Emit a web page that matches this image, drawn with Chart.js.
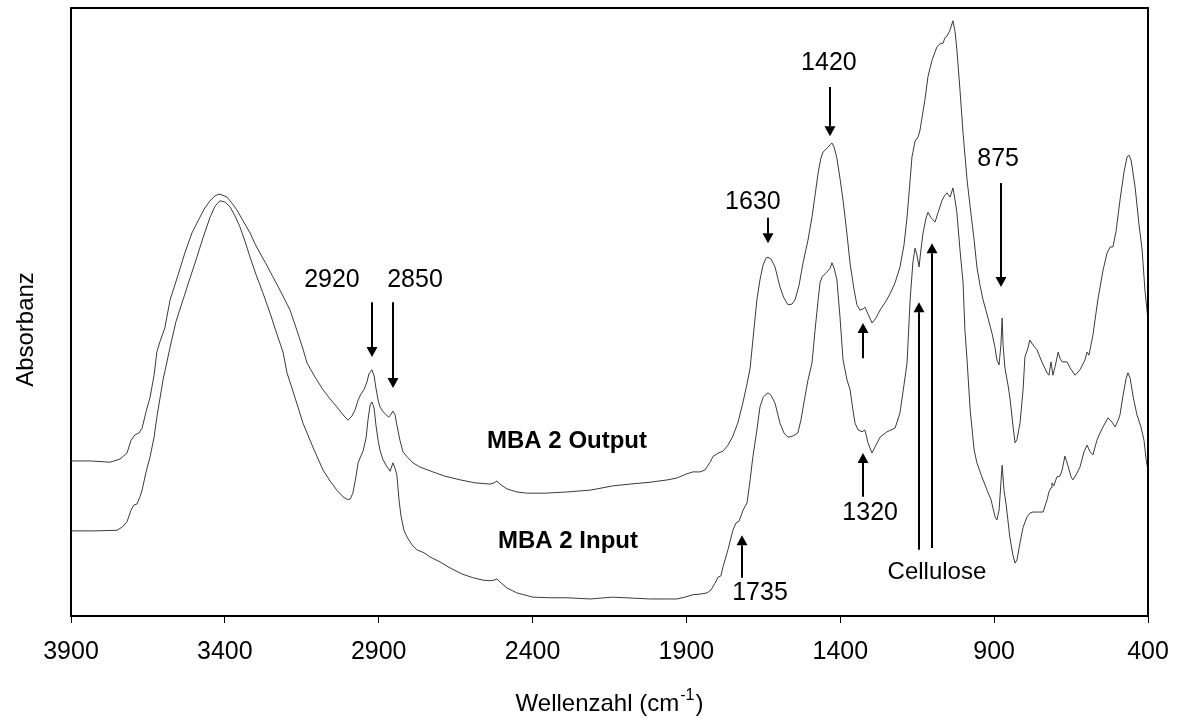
<!DOCTYPE html>
<html>
<head>
<meta charset="utf-8">
<title>FTIR MBA 2</title>
<script src="https://cdn.jsdelivr.net/npm/chart.js@4.4.1/dist/chart.umd.min.js"></script>
<style>
  html, body { margin: 0; padding: 0; background: #fff; }
  #wrap { width: 1177px; height: 719px; }
</style>
</head>
<body>
<div id="wrap"><canvas id="spectrum"></canvas></div>
<script>
// MBA 2 Output spectrum (wavenumber in cm-1, relative absorbance)
const outputWn = [3900,3838,3773,3741,3718,3705,3692,3679,3669,3656,
  3643,3630,3621,3611,3595,3578,3552,3530,3507,3481,
  3465,3448,3432,3419,3406,3393,3377,3361,3341,3318,
  3302,3286,3266,3244,3218,3188,3166,3146,3133,3107,
  3081,3058,3036,3016,3000,2987,2977,2967,2958,2948,
  2938,2932,2928,2922,2915,2909,2902,2896,2886,2876,
  2867,2860,2854,2847,2841,2831,2821,2808,2789,2766,
  2724,2685,2636,2587,2538,2525,2516,2506,2483,2451,
  2418,2360,2288,2213,2139,2083,2018,1960,1931,1898,
  1879,1856,1840,1823,1814,1797,1781,1765,1749,1732,
  1716,1703,1693,1684,1671,1661,1651,1641,1635,1625,
  1612,1596,1583,1570,1557,1547,1534,1521,1505,1492,
  1482,1472,1463,1456,1446,1440,1433,1427,1420,1411,
  1401,1391,1378,1368,1355,1346,1336,1326,1320,1310,
  1297,1284,1271,1255,1238,1222,1206,1193,1183,1173,
  1167,1157,1147,1141,1134,1125,1115,1102,1086,1076,
  1066,1060,1053,1043,1034,1027,1021,1011,1001,988,
  978,965,956,946,936,920,907,897,891,884,
  878,874,871,865,855,849,839,832,826,816,
  806,800,790,784,774,761,745,728,722,715,
  709,702,692,686,679,663,653,637,621,605,
  598,592,579,563,546,533,523,514,504,491,
  478,468,462,455,442,429,419,410,400];
const outputAbs = [.255,.255,.253,.258,.268,.289,.298,.301,.309,.336,
  .360,.396,.434,.451,.474,.520,.561,.597,.630,.656,
  .671,.683,.691,.694,.692,.689,.679,.668,.650,.630,
  .612,.597,.579,.558,.533,.503,.470,.439,.416,.393,
  .372,.357,.344,.331,.322,.329,.339,.355,.365,.372,
  .385,.398,.401,.405,.395,.375,.355,.344,.336,.331,
  .327,.332,.337,.331,.314,.289,.270,.262,.252,.245,
  .237,.230,.224,.219,.217,.219,.222,.217,.209,.204,
  .202,.202,.204,.207,.214,.217,.220,.224,.227,.234,
  .237,.237,.240,.253,.262,.268,.271,.281,.296,.319,
  .352,.382,.408,.454,.520,.553,.577,.589,.590,.587,
  .574,.541,.523,.512,.513,.520,.544,.581,.618,.656,
  .692,.729,.753,.763,.768,.771,.775,.778,.771,.753,
  .720,.684,.627,.579,.536,.512,.503,.505,.508,.497,
  .482,.490,.503,.515,.530,.548,.574,.610,.656,.717,
  .755,.781,.788,.799,.821,.849,.887,.914,.936,.941,
  .942,.951,.954,.964,.979,.961,.931,.865,.794,.717,
  .673,.618,.574,.544,.520,.490,.465,.441,.421,.413,
  .446,.490,.446,.408,.380,.360,.314,.285,.290,.317,
  .372,.426,.441,.454,.446,.438,.418,.400,.396,.418,
  .396,.410,.434,.424,.418,.418,.408,.396,.405,.421,
  .434,.429,.462,.520,.569,.597,.607,.607,.632,.684,
  .730,.755,.758,.750,.706,.643,.602,.536,.487];

// MBA 2 Input spectrum
const inputWn = [3900,3822,3751,3734,3718,3705,3695,3686,3676,3669,
  3656,3643,3630,3621,3601,3578,3559,3536,3513,3491,
  3471,3448,3432,3416,3400,3383,3367,3351,3335,3318,
  3299,3276,3253,3231,3211,3198,3172,3146,3114,3081,
  3058,3036,3016,3003,2993,2984,2974,2967,2958,2951,
  2941,2935,2928,2922,2915,2909,2902,2896,2886,2876,
  2863,2857,2854,2847,2841,2834,2828,2818,2808,2792,
  2776,2753,2733,2701,2668,2629,2594,2561,2538,2525,
  2516,2506,2483,2451,2399,2343,2288,2213,2165,2139,
  2100,2018,1970,1931,1905,1879,1856,1833,1820,1807,
  1797,1788,1781,1765,1749,1739,1729,1716,1703,1693,
  1684,1671,1661,1651,1645,1635,1625,1612,1596,1583,
  1570,1554,1538,1528,1515,1505,1492,1482,1472,1466,
  1459,1449,1443,1433,1427,1420,1411,1401,1391,1378,
  1368,1359,1352,1342,1329,1320,1310,1297,1284,1271,
  1248,1222,1206,1193,1183,1173,1164,1157,1151,1144,
  1138,1131,1121,1115,1105,1092,1082,1069,1060,1053,
  1043,1034,1027,1021,1011,1001,995,988,978,965,
  956,940,923,910,897,891,884,874,868,861,
  849,839,832,826,816,806,793,784,774,757,
  741,728,722,715,712,706,696,686,679,670,
  660,650,644,634,621,608,598,588,579,566,
  556,543,530,517,507,497,491,481,471,465,
  458,448,436,423,413,406,400];
const inputAbs = [.140,.140,.141,.146,.155,.174,.183,.184,.196,.207,
  .237,.262,.294,.327,.388,.442,.484,.520,.556,.590,
  .622,.656,.674,.683,.681,.673,.658,.640,.617,.590,
  .562,.531,.498,.464,.434,.400,.359,.317,.278,.240,
  .222,.207,.196,.192,.192,.202,.229,.252,.263,.271,
  .293,.322,.347,.352,.342,.314,.289,.273,.257,.248,
  .238,.247,.252,.243,.232,.191,.166,.141,.130,.117,
  .109,.104,.097,.089,.079,.069,.063,.059,.058,.059,
  .061,.056,.046,.038,.031,.030,.030,.028,.030,.031,
  .030,.028,.028,.028,.031,.035,.036,.038,.043,.054,
  .064,.066,.081,.109,.141,.153,.156,.174,.186,.224,
  .262,.306,.344,.359,.363,.367,.363,.350,.317,.301,
  .294,.296,.301,.322,.360,.388,.416,.470,.520,.548,
  .558,.563,.566,.572,.581,.572,.553,.492,.421,.388,
  .372,.339,.317,.306,.303,.306,.285,.268,.281,.294,
  .303,.309,.334,.380,.416,.520,.582,.605,.594,.574,
  .602,.630,.655,.664,.655,.648,.664,.684,.692,.696,
  .689,.704,.684,.663,.602,.548,.470,.421,.339,.273,
  .252,.229,.207,.191,.163,.158,.174,.248,.207,.183,
  .130,.100,.087,.092,.120,.146,.163,.169,.171,.171,
  .171,.191,.204,.211,.219,.214,.229,.230,.240,.263,
  .247,.229,.224,.232,.245,.270,.281,.270,.265,.289,
  .301,.314,.326,.319,.311,.322,.331,.363,.391,.400,
  .391,.360,.331,.311,.289,.257,.240];

const xTicks = [3900, 3400, 2900, 2400, 1900, 1400, 900, 400];

// band markers: arrow at wavenumber, from tail absorbance to tip absorbance
const bandArrows = [
  { wn: 2922, from: .516, to: .426 },
  { wn: 2854, from: .516, to: .375 },
  { wn: 1635, from: .655, to: .613 },
  { wn: 1435, from: .870, to: .789 },
  { wn: 878,  from: .712, to: .541 },
  { wn: 1326, from: .424, to: .482 },
  { wn: 1326, from: .196, to: .268 },
  { wn: 1719, from: .063, to: .133 },
  { wn: 1144, from: .109, to: .516 },
  { wn: 1102, from: .112, to: .613 }
];
const bandLabels = [
  { text: '2920', wn: 3052, abs: .553 },
  { text: '2850', wn: 2782, abs: .553 },
  { text: '1630', wn: 1684, abs: .681 },
  { text: '1420', wn: 1437, abs: .910 },
  { text: '875',  wn: 887,  abs: .752 },
  { text: '1320', wn: 1303, abs: .169 },
  { text: '1735', wn: 1661, abs: .038 },
  { text: 'Cellulose', wn: 1086, abs: .072 },
  { text: 'MBA 2 Output', wn: 2288, abs: .288, bold: true },
  { text: 'MBA 2 Input',  wn: 2285, abs: .123, bold: true }
];

const FONT = '"Liberation Sans", Arial, sans-serif';

function toPoints(xs, ys) {
  return xs.map((x, i) => ({ x: x, y: ys[i] }));
}

function drawArrow(ctx, x, y0, y1) {
  const dir = y1 > y0 ? 1 : -1;
  const head = 10, half = 5.5;
  ctx.beginPath();
  ctx.moveTo(x, y0);
  ctx.lineTo(x, y1 - dir * head);
  ctx.stroke();
  ctx.beginPath();
  ctx.moveTo(x, y1);
  ctx.lineTo(x - half, y1 - dir * head);
  ctx.lineTo(x + half, y1 - dir * head);
  ctx.closePath();
  ctx.fill();
}

const annotations = {
  id: 'annotations',
  afterDraw(chart) {
    const { ctx, chartArea: a, scales: { x, y } } = chart;
    ctx.save();

    // top and right edges of the frame
    ctx.strokeStyle = '#000';
    ctx.lineWidth = 2;
    ctx.beginPath();
    ctx.moveTo(a.left, a.top);
    ctx.lineTo(a.right, a.top);
    ctx.lineTo(a.right, a.bottom);
    ctx.stroke();

    // arrows
    ctx.fillStyle = '#000';
    ctx.lineWidth = 2;
    bandArrows.forEach(b => {
      const px = Math.round(x.getPixelForValue(b.wn));
      drawArrow(ctx, px, y.getPixelForValue(b.from), y.getPixelForValue(b.to));
    });

    // labels
    ctx.textAlign = 'center';
    ctx.textBaseline = 'middle';
    bandLabels.forEach(l => {
      ctx.font = (l.bold ? 'bold 24px ' : /^\d+$/.test(l.text) ? '25px ' : '24px ') + FONT;
      ctx.fillText(l.text, x.getPixelForValue(l.wn), y.getPixelForValue(l.abs));
    });

    // y axis title
    ctx.save();
    ctx.translate(33, 329.5);
    ctx.rotate(-Math.PI / 2);
    ctx.textBaseline = 'alphabetic';
    ctx.font = '24px ' + FONT;
    ctx.fillText('Absorbanz', 0, 0);
    ctx.restore();

    // x axis title with superscript
    ctx.textBaseline = 'alphabetic';
    ctx.textAlign = 'left';
    const main = 'Wellenzahl (cm', sup = '-1', close = ')';
    ctx.font = '24px ' + FONT;
    const wMain = ctx.measureText(main).width;
    const wClose = ctx.measureText(close).width;
    ctx.font = '16px ' + FONT;
    const wSup = ctx.measureText(sup).width + 2;
    let tx = (a.left + a.right) / 2 - (wMain + wSup + wClose) / 2;
    ctx.font = '24px ' + FONT;
    ctx.fillText(main, tx, 711);
    tx += wMain + 1;
    ctx.font = '16px ' + FONT;
    ctx.fillText(sup, tx, 700);
    tx += wSup - 1;
    ctx.font = '24px ' + FONT;
    ctx.fillText(close, tx, 711);

    ctx.restore();
  }
};

new Chart(document.getElementById('spectrum'), {
  type: 'line',
  data: {
    datasets: [
      {
        label: 'MBA 2 Output',
        data: toPoints(outputWn, outputAbs),
        borderColor: '#3a3a3a',
        borderWidth: 1,
        pointRadius: 0,
        tension: 0
      },
      {
        label: 'MBA 2 Input',
        data: toPoints(inputWn, inputAbs),
        borderColor: '#3a3a3a',
        borderWidth: 1,
        pointRadius: 0,
        tension: 0
      }
    ]
  },
  options: {
    responsive: true,
    maintainAspectRatio: false,
    animation: false,
    layout: { padding: { top: 8, right: 29, bottom: 0, left: 0 } },
    plugins: {
      legend: { display: false },
      tooltip: { enabled: false }
    },
    scales: {
      x: {
        type: 'linear',
        reverse: true,
        min: 400,
        max: 3900,
        afterBuildTicks: s => { s.ticks = xTicks.map(v => ({ value: v })); },
        afterFit: s => { s.height = 103; s.paddingLeft = 0; s.paddingRight = 0; },
        ticks: {
          color: '#000',
          padding: 14,
          maxRotation: 0,
          autoSkip: false,
          font: { family: FONT, size: 25 },
          callback: v => String(v)
        },
        grid: { display: true, drawOnChartArea: false, drawTicks: true, tickLength: 7, color: '#000' },
        border: { display: true, color: '#000', width: 2 }
      },
      y: {
        min: 0,
        max: 1,
        afterFit: s => { s.width = 71; s.paddingTop = 0; s.paddingBottom = 0; },
        ticks: { display: false },
        grid: { display: false },
        border: { display: true, color: '#000', width: 2 }
      }
    }
  },
  plugins: [annotations]
});
</script>
</body>
</html>
